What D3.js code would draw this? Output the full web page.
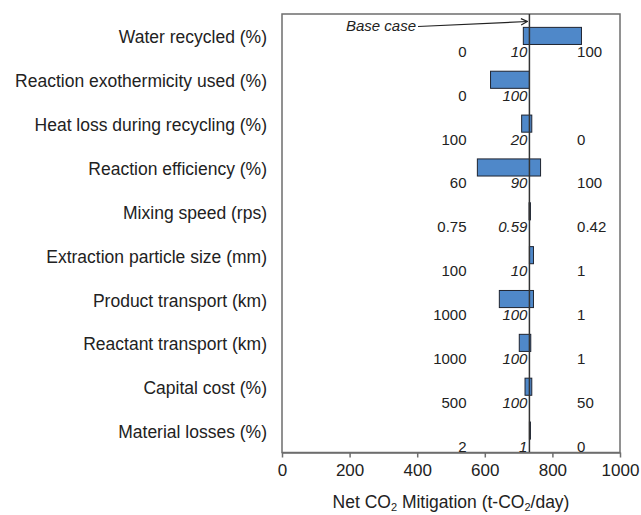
<!DOCTYPE html>
<html>
<head>
<meta charset="utf-8">
<script src="https://cdn.jsdelivr.net/npm/d3@7"></script>
<style>
  body { margin: 0; background: #fff; }
  svg { font-family: "Liberation Sans", Arial, sans-serif; }
</style>
</head>
<body>
<svg id="chart" width="641" height="515"></svg>
<script>
// tornado chart data
const categories = [
    'Water recycled (%)',
    'Reaction exothermicity used (%)',
    'Heat loss during recycling (%)',
    'Reaction efficiency (%)',
    'Mixing speed (rps)',
    'Extraction particle size (mm)',
    'Product transport (km)',
    'Reactant transport (km)',
    'Capital cost (%)',
    'Material losses (%)'
];
const lowLabels  = ['0', '0', '100', '60', '0.75', '100', '1000', '1000', '500', '2'];
const baseLabels = ['10', '100', '20', '90', '0.59', '10', '100', '100', '100', '1'];
const highLabels = ['100', '', '0', '100', '0.42', '1', '1', '1', '50', '0'];
const barStart = [714, 617, 709, 578, 731, 732, 643, 702, 719, 732];
const barEnd   = [886, 732, 739, 765, 735, 744, 744, 736, 739, 735];
const baseCase = 732;
const xTicks = [0, 200, 400, 600, 800, 1000];

const rows = categories.map((c, i) => ({
    name: c, low: lowLabels[i], base: baseLabels[i], high: highLabels[i],
    start: barStart[i], end: barEnd[i]
}));

const svg = d3.select('#chart');
const plot = {left: 282, right: 620, top: 14, bottom: 452.5};

const x = d3.scaleLinear().domain([0, 1000]).range([plot.left, plot.right]);
const y = d3.scaleBand().domain(categories).range([plot.top, plot.bottom]);
const barH = y.bandwidth() * 0.39;
const mid = (d) => y(d.name) + y.bandwidth() / 2;

// frame
svg.append('rect')
    .attr('x', plot.left)
    .attr('y', plot.top)
    .attr('width', plot.right - plot.left)
    .attr('height', plot.bottom - plot.top)
    .attr('fill', 'none')
    .attr('stroke', '#6e6e6e')
    .attr('stroke-width', 1.5);

// bars
svg.append('g').selectAll('rect')
    .data(rows)
    .enter().append('rect')
    .attr('x', d => x(d.start))
    .attr('y', d => mid(d) - barH / 2)
    .attr('width', d => x(d.end) - x(d.start))
    .attr('height', barH)
    .attr('fill', '#4f88c9')
    .attr('stroke', '#1f2430')
    .attr('stroke-width', 1);

// base case line
svg.append('line')
    .attr('x1', x(baseCase)).attr('x2', x(baseCase))
    .attr('y1', plot.top).attr('y2', plot.bottom)
    .attr('stroke', '#333')
    .attr('stroke-width', 1.5);

// category labels
svg.append('g').selectAll('text')
    .data(rows)
    .enter().append('text')
    .text(d => d.name)
    .attr('x', 267)
    .attr('y', d => mid(d) + 7.5)
    .style('text-anchor', 'end')
    .style('font-size', '17.5px')
    .style('fill', '#222');

// value labels
const valueLabels = svg.append('g').style('font-size', '15px').style('fill', '#222');

valueLabels.selectAll('.lowLabel')
    .data(rows)
    .enter().append('text')
    .attr('class', 'lowLabel')
    .text(d => d.low)
    .attr('x', x(546))
    .attr('y', d => mid(d) + 21)
    .style('text-anchor', 'end');

valueLabels.selectAll('.baseLabel')
    .data(rows)
    .enter().append('text')
    .attr('class', 'baseLabel')
    .text(d => d.base)
    .attr('x', x(baseCase) - 2)
    .attr('y', d => mid(d) + 21)
    .style('text-anchor', 'end')
    .style('font-style', 'italic');

valueLabels.selectAll('.highLabel')
    .data(rows)
    .enter().append('text')
    .attr('class', 'highLabel')
    .text(d => d.high)
    .attr('x', x(873))
    .attr('y', d => mid(d) + 21)
    .style('text-anchor', 'start');

// x axis
const xAxis = svg.append('g')
    .attr('transform', `translate(0, ${plot.bottom})`)
    .call(d3.axisBottom(x).tickValues(xTicks).tickFormat(d3.format('d'))
        .tickSize(5).tickSizeOuter(0).tickPadding(6));

xAxis.select('.domain').attr('stroke', '#6e6e6e').attr('stroke-width', 1.5);
xAxis.selectAll('.tick line').attr('stroke', '#6e6e6e').attr('stroke-width', 1.5);
xAxis.selectAll('.tick text')
    .style('font-family', '"Liberation Sans", Arial, sans-serif')
    .style('font-size', '17px')
    .style('fill', '#222');

// axis title
const title = svg.append('text')
    .attr('x', (plot.left + plot.right) / 2)
    .attr('y', 508)
    .style('text-anchor', 'middle')
    .style('font-size', '17.5px')
    .style('fill', '#222');

title.append('tspan').text('Net CO');
title.append('tspan').text('2').attr('dy', 3).style('font-size', '11px');
title.append('tspan').text(' Mitigation (t-CO').attr('dy', -3);
title.append('tspan').text('2').attr('dy', 3).style('font-size', '11px');
title.append('tspan').text('/day)').attr('dy', -3);

// base case annotation
svg.append('text')
    .text('Base case')
    .attr('x', 416)
    .attr('y', 31)
    .style('text-anchor', 'end')
    .style('font-size', '15px')
    .style('font-style', 'italic')
    .style('fill', '#222');

svg.append('defs').append('marker')
    .attr('id', 'arrow')
    .attr('viewBox', '0 0 10 10')
    .attr('refX', 9)
    .attr('refY', 5)
    .attr('markerWidth', 8)
    .attr('markerHeight', 8)
    .attr('markerUnits', 'userSpaceOnUse')
    .attr('orient', 'auto')
    .append('path')
    .attr('d', 'M1,1 L9,5 L1,9')
    .attr('fill', 'none')
    .attr('stroke', '#222')
    .attr('stroke-width', 1.5);

svg.append('line')
    .attr('x1', 418).attr('y1', 26.5)
    .attr('x2', x(baseCase) - 2).attr('y2', 21.5)
    .attr('stroke', '#222')
    .attr('stroke-width', 1.2)
    .attr('marker-end', 'url(#arrow)');
</script>
</body>
</html>
